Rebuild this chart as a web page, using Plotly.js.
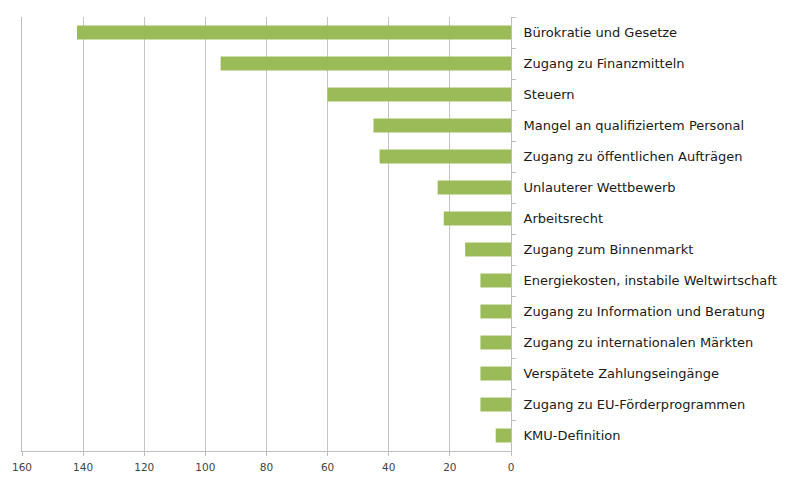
<!DOCTYPE html>
<html>
<head>
<meta charset="utf-8">
<script src="https://cdn.plot.ly/plotly-3.0.1.min.js"></script>
<style>html,body{margin:0;padding:0;background:#fff;}#chart{width:795px;height:478px;}</style>
</head>
<body>
<div id="chart"></div>
<script>
const categories = [
  "Bürokratie und Gesetze",
  "Zugang zu Finanzmitteln",
  "Steuern",
  "Mangel an qualifiziertem Personal",
  "Zugang zu öffentlichen Aufträgen",
  "Unlauterer Wettbewerb",
  "Arbeitsrecht",
  "Zugang zum Binnenmarkt",
  "Energiekosten, instabile Weltwirtschaft",
  "Zugang zu Information und Beratung",
  "Zugang zu internationalen Märkten",
  "Verspätete Zahlungseingänge",
  "Zugang zu EU-Förderprogrammen",
  "KMU-Definition"
];
const values = [142, 95, 60, 45, 43, 24, 22, 15, 10, 10, 10, 10, 10, 5];
const xTicks = [160, 140, 120, 100, 80, 60, 40, 20, 0];

const trace = {
  type: "bar",
  orientation: "h",
  x: values,
  y: categories,
  marker: { color: "#9BBB59" },
  hoverinfo: "x+y"
};

const layout = {
  width: 795,
  height: 478,
  margin: { l: 22, r: 284, t: 17, b: 27, pad: 0 },
  paper_bgcolor: "#ffffff",
  plot_bgcolor: "#ffffff",
  bargap: 0.55,
  showlegend: false,
  xaxis: {
    range: [160, 0],
    tickvals: xTicks,
    ticktext: xTicks.map(String),
    showgrid: true,
    gridcolor: "#c4c4c4",
    gridwidth: 1,
    zeroline: false,
    showline: true,
    linecolor: "#bdbdbd",
    ticks: "outside",
    ticklen: 4,
    tickcolor: "#bdbdbd",
    ticklabelstandoff: 2,
    tickfont: { family: "DejaVu Sans, sans-serif", size: 10.5, color: "#444444" }
  },
  yaxis: {
    side: "right",
    autorange: "reversed",
    type: "category",
    showgrid: false,
    zeroline: false,
    showline: true,
    mirror: true,
    linecolor: "#bdbdbd",
    ticks: "outside",
    tickson: "boundaries",
    ticklen: 4,
    tickcolor: "#bdbdbd",
    ticklabelstandoff: 9,
    tickfont: { family: "DejaVu Sans, sans-serif", size: 13, color: "#1a1a1a" }
  }
};

Plotly.newPlot("chart", [trace], layout, { displayModeBar: false, staticPlot: true });
</script>
</body>
</html>
